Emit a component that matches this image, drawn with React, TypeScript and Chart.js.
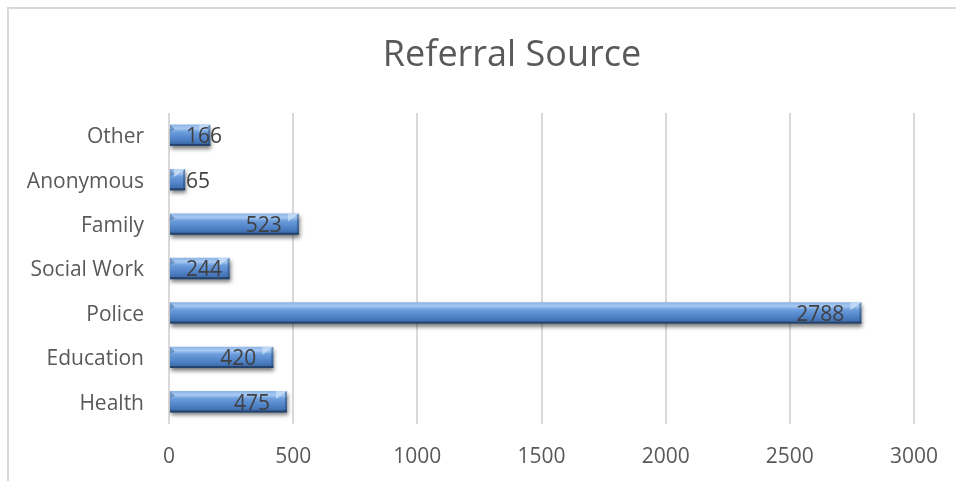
import React, { useEffect, useRef } from "react";
import { Chart, registerables } from "chart.js";

Chart.register(...registerables);

const categories = ["Health", "Education", "Police", "Social Work", "Family", "Anonymous", "Other"];
const referrals = [475, 420, 2788, 244, 523, 65, 166];
const xTicks = [0, 500, 1000, 1500, 2000, 2500, 3000];
const chartTitle = "Referral Source";

const FONT = "'Open Sans', 'Noto Sans', sans-serif";
const TEXT = "#595959";
const BAR_FRACTION = 0.48;

export default function App() {
  const ref = useRef<HTMLCanvasElement | null>(null);

  useEffect(() => {
    document.body.style.margin = "0";
    const canvas = ref.current;
    if (!canvas) return;

    const framePlugin = {
      id: "frame",
      beforeDraw(chart: any) {
        const c = chart.ctx;
        c.save();
        c.fillStyle = "#ffffff";
        c.fillRect(0, 0, chart.width, chart.height);
        c.strokeStyle = "#d9d9d9";
        c.lineWidth = 2;
        c.beginPath();
        c.moveTo(8, chart.height + 2);
        c.lineTo(8, 8);
        c.lineTo(chart.width + 2, 8);
        c.stroke();
        c.font = `36px ${FONT}`;
        c.fillStyle = TEXT;
        c.textAlign = "center";
        c.textBaseline = "middle";
        c.fillText(chartTitle, 512, 56);
        c.restore();
      },
    };

    const barLookPlugin = {
      id: "barLook",
      beforeDatasetDraw(chart: any) {
        const c = chart.ctx;
        c.save();
        c.shadowColor = "rgba(0,0,0,0.5)";
        c.shadowBlur = 4;
        c.shadowOffsetX = 1;
        c.shadowOffsetY = 3;
      },
      afterDatasetDraw(chart: any) {
        const c = chart.ctx;
        c.restore();
        const meta = chart.getDatasetMeta(0);
        c.save();
        meta.data.forEach((bar: any) => {
          const top = bar.y - bar.height / 2;
          const bot = bar.y + bar.height / 2;
          const left = bar.base;
          const right = bar.x;
          const b = Math.min(5, (right - left) / 2);
          // right bevel: light wedge on top, darker edge
          c.fillStyle = "rgba(200,222,248,0.8)";
          c.beginPath();
          c.moveTo(right, top);
          c.lineTo(right - b * 2.2, top + b * 1.6);
          c.lineTo(right - b * 2.2, top);
          c.closePath();
          c.fill();
          c.fillStyle = "rgba(30,60,100,0.45)";
          c.beginPath();
          c.moveTo(right, top);
          c.lineTo(right, bot);
          c.lineTo(right - 2, bot - 2);
          c.lineTo(right - 2, top + 2);
          c.closePath();
          c.fill();
          // left bevel
          c.fillStyle = "rgba(40,80,130,0.4)";
          c.beginPath();
          c.moveTo(left, top);
          c.lineTo(left + b, top + b);
          c.lineTo(left, top + b + 2);
          c.closePath();
          c.fill();
          // bottom dark edge
          c.fillStyle = "rgba(30,55,90,0.75)";
          c.fillRect(left, bot - 2, right - left, 2);
        });
        // data labels
        c.font = `21px ${FONT}`;
        c.fillStyle = "#404040";
        c.textBaseline = "middle";
        c.textAlign = "left";
        const ds = chart.data.datasets[0];
        meta.data.forEach((bar: any, i: number) => {
          const txt = String(ds.data[i]);
          const w = c.measureText(txt).width;
          let x = bar.x - 17 - w;
          const minX = bar.base + 16;
          if (x < minX) x = minX;
          c.fillText(txt, x, bar.y + 2);
        });
        c.restore();
      },
    };

    const chart = new Chart(canvas, {
      type: "bar",
      data: {
        labels: categories,
        datasets: [
          {
            data: referrals,
            categoryPercentage: 1,
            barPercentage: BAR_FRACTION,
            borderWidth: 0,
            backgroundColor: (ctx: any) => {
              const ch = ctx.chart;
              const ys = ch.scales && ch.scales.y;
              if (!ys || ys.getPixelForValue === undefined) return "#4f81bd";
              const cy = ys.getPixelForValue(ctx.dataIndex);
              if (!isFinite(cy)) return "#4f81bd";
              const th = (ys.height / categories.length) * BAR_FRACTION;
              const g = ch.ctx.createLinearGradient(0, cy - th / 2, 0, cy + th / 2);
              g.addColorStop(0, "#8ab3e6");
              g.addColorStop(0.18, "#a8c9f2");
              g.addColorStop(0.35, "#6c9ddc");
              g.addColorStop(0.7, "#4d80c6");
              g.addColorStop(1, "#3a65a0");
              return g;
            },
          },
        ],
      },
      options: {
        indexAxis: "y",
        responsive: false,
        animation: false,
        events: [],
        layout: { padding: { top: 113, right: 42, left: 0, bottom: 0 } },
        plugins: {
          legend: { display: false },
          title: { display: false },
          tooltip: { enabled: false },
        },
        scales: {
          x: {
            min: 0,
            max: 3000,
            afterBuildTicks: (scale: any) => {
              scale.ticks = xTicks.map((v) => ({ value: v }));
            },
            afterFit: (scale: any) => {
              scale.height = 57;
              scale.paddingLeft = 0;
              scale.paddingRight = 0;
            },
            grid: { color: "#d9d9d9", lineWidth: 2, drawTicks: false },
            border: { display: false },
            ticks: {
              padding: 20,
              color: TEXT,
              font: { family: FONT, size: 21 },
              callback: (v: any) => String(v),
            },
          },
          y: {
            reverse: true,
            afterFit: (scale: any) => {
              scale.width = 169;
              scale.paddingTop = 0;
              scale.paddingBottom = 0;
            },
            grid: { display: false, drawTicks: false },
            border: { display: false },
            ticks: {
              padding: 25,
              labelOffset: 2,
              color: TEXT,
              font: { family: FONT, size: 21 },
            },
          },
        },
      },
      plugins: [framePlugin, barLookPlugin],
    });

    return () => chart.destroy();
  }, []);

  return (
    <div style={{ width: 956, height: 481 }}>
      <canvas ref={ref} width={956} height={481} style={{ display: "block" }} />
    </div>
  );
}
